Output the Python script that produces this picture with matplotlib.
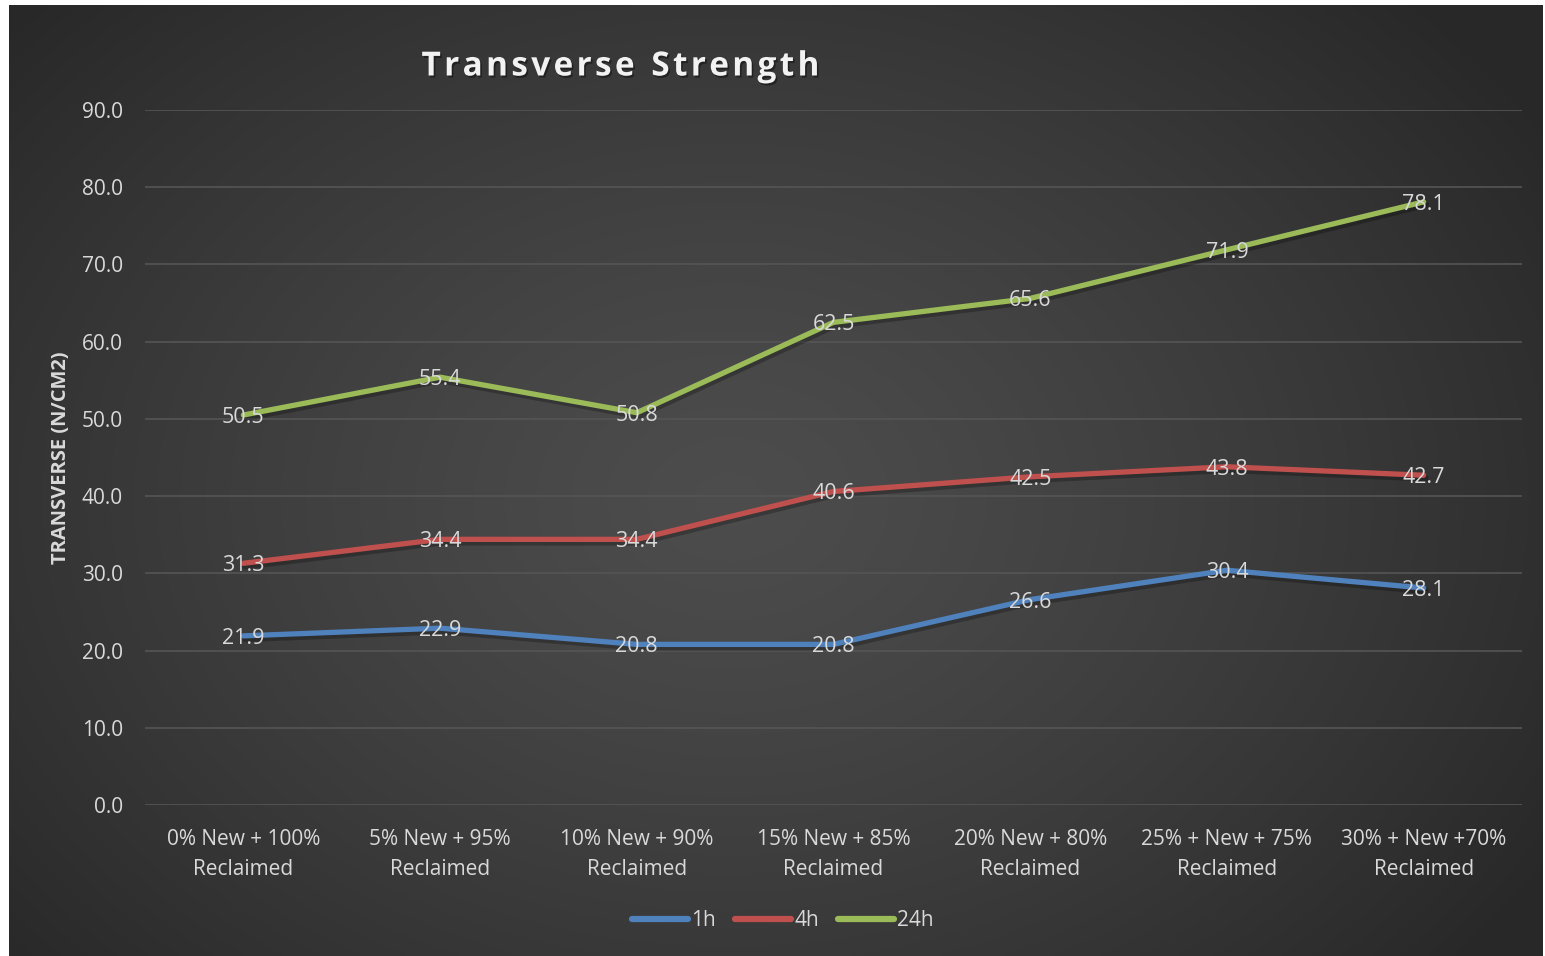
import numpy as np
import matplotlib
matplotlib.use("Agg")
import matplotlib.pyplot as plt
import matplotlib.patheffects as pe

# Data
categories = ["0% New + 100%\nReclaimed", "5% New + 95%\nReclaimed", "10% New + 90%\nReclaimed",
              "15% New + 85%\nReclaimed", "20% New + 80%\nReclaimed", "25% + New + 75%\nReclaimed",
              "30% + New +70%\nReclaimed"]
series_names = ["1h", "4h", "24h"]
values_1h = [21.9, 22.9, 20.8, 20.8, 26.6, 30.4, 28.1]
values_4h = [31.3, 34.4, 34.4, 40.6, 42.5, 43.8, 42.7]
values_24h = [50.5, 55.4, 50.8, 62.5, 65.6, 71.9, 78.1]
yticks = [0, 10, 20, 30, 40, 50, 60, 70, 80, 90]

colors = ["#4f81bd", "#c0504d", "#9bbb59"]
font = "Open Sans"
label_color = "#d9d9d9"

W, H = 1545, 956
fig = plt.figure(figsize=(W / 100, H / 100), dpi=100, facecolor="white")

# Dark radial-gradient chart background
bx0, by0 = 9, 0
bw, bh = W - 9 - 2, H - 5
bg = fig.add_axes([bx0 / W, by0 / H, bw / W, bh / H])
gy, gx = np.mgrid[0:1:400j, 0:1:640j]
r = np.sqrt(((gx - 0.47) / 0.62) ** 2 + ((gy - 0.52) / 0.75) ** 2)
r = np.clip(r, 0, 1)
shade = 0.30 - 0.14 * r ** 1.3
bg.imshow(np.dstack([shade] * 3), aspect="auto", extent=[0, 1, 0, 1], interpolation="bicubic")
bg.set_axis_off()

# Plot area
left, right = 145, 1522
top, bottom = 110, 805
ax = fig.add_axes([left / W, 1 - bottom / H, (right - left) / W, (bottom - top) / H])
ax.set_facecolor("none")
x = np.arange(len(categories))
ax.set_xlim(-0.5, len(categories) - 0.5)
ax.set_ylim(0, 90)

ax.set_yticks(yticks)
ax.set_yticklabels([f"{v:.1f}" for v in yticks], fontsize=15, color=label_color, family=font)
ax.set_xticks(x)
ax.set_xticklabels(categories, fontsize=15, color=label_color, family=font, linespacing=1.6)
ax.tick_params(axis="both", length=0)
ax.tick_params(axis="y", pad=16)
ax.tick_params(axis="x", pad=17)
ax.grid(axis="y", color="#555555", linewidth=1.2)
ax.set_axisbelow(True)
for s in ax.spines.values():
    s.set_visible(False)

shadow = [pe.SimpleLineShadow(offset=(1.2, -2.0), shadow_color="black", alpha=0.25, linewidth=5), pe.Normal()]
for vals, c, name in zip([values_1h, values_4h, values_24h], colors, series_names):
    ax.plot(x, vals, color=c, linewidth=3.8, solid_capstyle="round", solid_joinstyle="round",
            label=name, path_effects=shadow, zorder=3)
    for xi, v in zip(x, vals):
        ax.text(xi, v, f"{v:.1f}", ha="center", va="center_baseline", fontsize=15.5,
                color=label_color, family=font, zorder=4)

ax.set_ylabel("TRANSVERSE (N/CM2)", fontsize=14.5, fontweight="bold", color=label_color,
              family=font)
ax.yaxis.set_label_coords(-0.054, 0.5)

title_text = "\u200a".join("Transverse") + "\u2002" + "\u200a".join("Strength")
fig.text(621 / W, 1 - 67 / H, title_text,
         ha="center", va="center", fontsize=24, fontweight="bold", color="#f2f2f2", family=font,
         path_effects=[pe.withSimplePatchShadow(offset=(1.2, -1.5), shadow_rgbFace="black", alpha=0.4)])

leg = fig.legend(loc="center", bbox_to_anchor=(783 / W, 1 - 921 / H), ncol=3, frameon=False,
                 handlelength=2.7, handletextpad=0.15, columnspacing=0.9,
                 prop={"family": font, "size": 15})
for t in leg.get_texts():
    t.set_color(label_color)
for h in leg.get_lines():
    h.set_linewidth(4.5)
    h.set_solid_capstyle("round")
    h.set_path_effects([])

fig.savefig("out.png", dpi=100, facecolor="white")
